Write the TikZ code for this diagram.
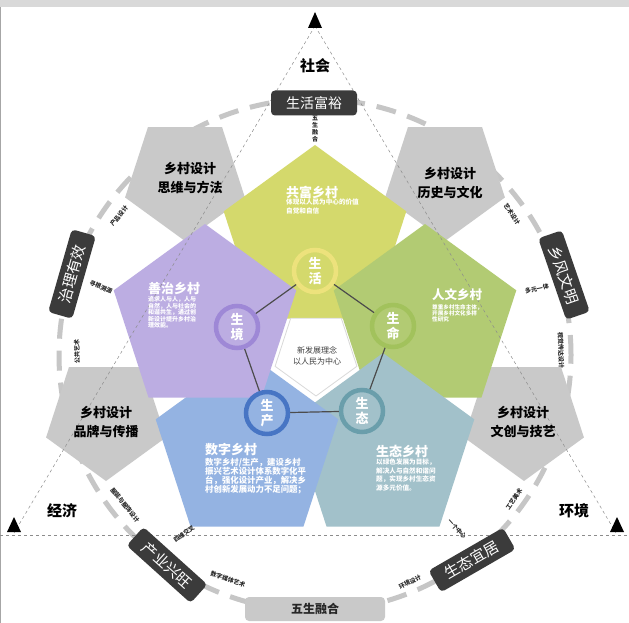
\documentclass[tikz,border=0pt]{standalone}
\usepackage{fontspec}
\setmainfont{Noto Sans CJK SC}
\usetikzlibrary{shapes.geometric}
\definecolor{pyel}{HTML}{D4D96C}
\definecolor{ryel}{HTML}{EDE27C}
\definecolor{ppur}{HTML}{BCADE2}
\definecolor{rpur}{HTML}{9E88D6}
\definecolor{pgrn}{HTML}{B2CB73}
\definecolor{rgrn}{HTML}{A2C25C}
\definecolor{pblu}{HTML}{94B3E2}
\definecolor{rblu}{HTML}{4775C4}
\definecolor{ptea}{HTML}{A2C1CA}
\definecolor{rtea}{HTML}{6A9EAB}
\definecolor{pgry}{HTML}{C9C9C9}
\definecolor{dbox}{HTML}{3B3B3B}
\definecolor{cdsh}{HTML}{C6C6C6}
\begin{document}
\begin{tikzpicture}[x=1pt,y=-1pt,
 cpent/.style={regular polygon, regular polygon sides=5, minimum size=192pt, inner sep=0pt},
 gpent/.style={regular polygon, regular polygon sides=5, minimum size=126pt, inner sep=0pt, shape border rotate=180, fill=pgry},
 ring/.style={circle, minimum size=42pt, inner sep=0pt, line width=4.5pt, text=white, font=\bfseries\fontsize{13}{15}\selectfont, align=center},
 ttl/.style={anchor=west, text=white, font=\bfseries\fontsize{13}{13}\selectfont, inner sep=0pt},
 bodyS/.style={anchor=north west, text=white, align=left, inner sep=0pt, font=\bfseries\fontsize{6}{6.4}\selectfont},
 bodyM/.style={anchor=north west, text=white, align=left, inner sep=0pt, font=\bfseries\fontsize{6.6}{8.4}\selectfont},
 bodyL/.style={anchor=north west, text=white, align=left, inner sep=0pt, font=\bfseries\fontsize{8.4}{9}\selectfont},
 darkbox/.style={fill=dbox, rounded corners=4pt, text=white, font=\fontsize{14}{14}\selectfont, minimum height=25pt, minimum width=86pt, inner sep=0pt},
 lightbox/.style={fill=pgry, rounded corners=4pt, text=black!85, font=\bfseries\fontsize{12}{12}\selectfont, minimum height=24pt, minimum width=140pt, inner sep=0pt},
 tiny/.style={font=\bfseries\fontsize{6}{6}\selectfont, text=black!85, inner sep=0pt},
 corner/.style={font=\bfseries\fontsize{15}{15}\selectfont, inner sep=0pt},
 gtext/.style={font=\bfseries\fontsize{13}{19}\selectfont, align=center, inner sep=0pt},
 tri/.style={draw=black!45, dashed, line width=0.5pt},
 link/.style={draw=black!70, line width=1.2pt},
 marker/.style={fill=black}
]
\useasboundingbox (0,0) rectangle (629,623);
\fill[white] (0,0) rectangle (629,623);
\fill[black!15] (0,0) rectangle (629,7);
\draw[black!35, line width=1pt] (0.5,7) -- (0.5,623);

% dashed ring
\draw[cdsh, line width=5pt, dash pattern=on 20pt off 12pt] (315,355) circle[radius=256pt];

% grey pentagons
\node[gpent] (g1) at (185,178) {};
\node[gpent] (g2) at (445,178) {};
\node[gpent] (g3) at (106,418) {};
\node[gpent] (g4) at (524,418) {};

% coloured pentagons
\node[cpent, fill=pyel] (pY) at (315,241) {};
\node[cpent, fill=pgrn] (pG) at (425,320) {};
\node[cpent, fill=ptea] (pT) at (383,449) {};
\node[cpent, fill=pblu] (pB) at (247,449) {};
\node[cpent, fill=ppur] (pP) at (205,320) {};

% centre
\node[regular polygon, regular polygon sides=5, shape border rotate=180, minimum size=86pt, inner sep=0pt, fill=white, draw=black!15, line width=0.8pt] (cen) at (316,353) {};
\node[font=\fontsize{8}{11.5}\selectfont, text=black!75, align=center, inner sep=0pt] (ctext) at (317,356) {新发展理念\\以人民为中心};

% circles
\node[ring, draw=ryel, fill=pyel] (cH) at (315,271) {生\\活};
\node[ring, draw=rgrn, fill=pgrn] (cM) at (393,326) {生\\命};
\node[ring, draw=rtea, fill=ptea] (cT) at (362,411) {生\\态};
\node[ring, draw=rblu, fill=pblu] (cC) at (267,413) {生\\产};
\node[ring, draw=rpur, fill=ppur] (cJ) at (237,327) {生\\境};
\draw[link] (cH) -- (cM);
\draw[link] (cM) -- (cT);
\draw[link] (cT) -- (cC);
\draw[link] (cC) -- (cJ);
\draw[link] (cJ) -- (cH);

% triangle
\coordinate (tT) at (315,26);
\coordinate (tL) at (14,533);
\coordinate (tR) at (616,533);
\coordinate (bL) at (0,535);
\coordinate (bR) at (629,535);
\draw[tri] (tT) -- (tL);
\draw[tri] (tT) -- (tR);
\draw[tri] (bL) -- (bR);
\fill[marker] (315,12) -- (308,28) -- (322,28) -- cycle;
\fill[marker] (14,517) -- (7,532) -- (21,532) -- cycle;
\fill[marker] (617,517) -- (610,532) -- (624,532) -- cycle;

% corner words
\node[corner] (kS) at (315,66) {社会};
\node[corner] (kJ) at (62,511) {经济};
\node[corner] (kH) at (574,511) {环境};

% grey pentagon texts
\node[gtext] (gt1) at (190,178) {乡村设计\\思维与方法};
\node[gtext] (gt2) at (450,183) {乡村设计\\历史与文化};
\node[gtext] (gt3) at (106,422) {乡村设计\\品牌与传播};
\node[gtext] (gt4) at (523,422) {乡村设计\\文创与技艺};

% pentagon texts
\node[ttl] (tY) at (286,192) {共富乡村};
\node[bodyM] (bY) at (286,199) {体现以人民为中心的价值\\自觉和自信};
\node[ttl] (tP) at (148,288) {善治乡村};
\node[bodyS] (bP) at (148,296.5) {追求人与人，人与\\自然，人与社会的\\和谐共生，通过创\\新设计提升乡村治\\理效能。};
\node[ttl, font=\bfseries\fontsize{12.5}{12.5}\selectfont] (tG) at (432,295) {人文乡村};
\node[bodyS, font=\bfseries\fontsize{5.6}{5.6}\selectfont] (bG) at (432,304) {尊重乡村生命主体，\\开展乡村文化多样\\性研究};
\node[ttl] (tB) at (205,450) {数字乡村};
\node[bodyL] (bB) at (205,458) {数字乡村/生产，建设乡村\\振兴艺术设计体系数字化平\\台，强化设计产业，解决乡\\村创新发展动力不足问题；};
\node[ttl] (tT2) at (376,451) {生态乡村};
\node[bodyM] (bT) at (376,459) {以绿色发展为目标，\\解决人与自然和谐问\\题，实现乡村生态资\\源多元价值。};

% small labels
\node[tiny, align=center, font=\bfseries\fontsize{6}{7}\selectfont] (s1) at (315,129) {五\\生\\融\\合};
\node[tiny, rotate=50] (s2) at (119,216) {产品设计};
\node[tiny, rotate=-23] (s3) at (101,287) {寻根溯源};
\node[tiny, rotate=92] (s4) at (77,352) {公共艺术};
\node[tiny, rotate=-56] (s5) at (512,214) {艺术设计};
\node[tiny, rotate=12] (s6) at (537,289) {多元一体};
\node[tiny, rotate=-88] (s7) at (561,350) {视觉传达设计};
\node[tiny, rotate=-51] (s8) at (125,505) {服装与服饰设计};
\node[tiny, rotate=35] (s9) at (184,534) {四维交叉};
\node[tiny, rotate=-19] (s10) at (228,579) {数字媒体艺术};
\node[tiny, rotate=55] (s11) at (514,499) {工艺美术};
\node[tiny, rotate=-48] (s12) at (457,529) {一个中心};
\node[tiny, rotate=27] (s13) at (410,582) {环境设计};

% label boxes
\node[darkbox] (xTop) at (314,103) {生活富裕};
\node[darkbox, rotate=74, font=\fontsize{15}{15}\selectfont] (xL) at (72,274) {治理有效};
\node[darkbox, rotate=-71, font=\fontsize{15}{15}\selectfont] (xR) at (564,275) {乡风文明};
\node[darkbox, rotate=-42, font=\fontsize{15}{15}\selectfont] (xBL) at (167,565) {产业兴旺};
\node[darkbox, rotate=30, font=\fontsize{15}{15}\selectfont] (xBR) at (472,560) {生态宜居};
\node[lightbox] (xB) at (315,609) {五生融合};
\end{tikzpicture}
\end{document}
